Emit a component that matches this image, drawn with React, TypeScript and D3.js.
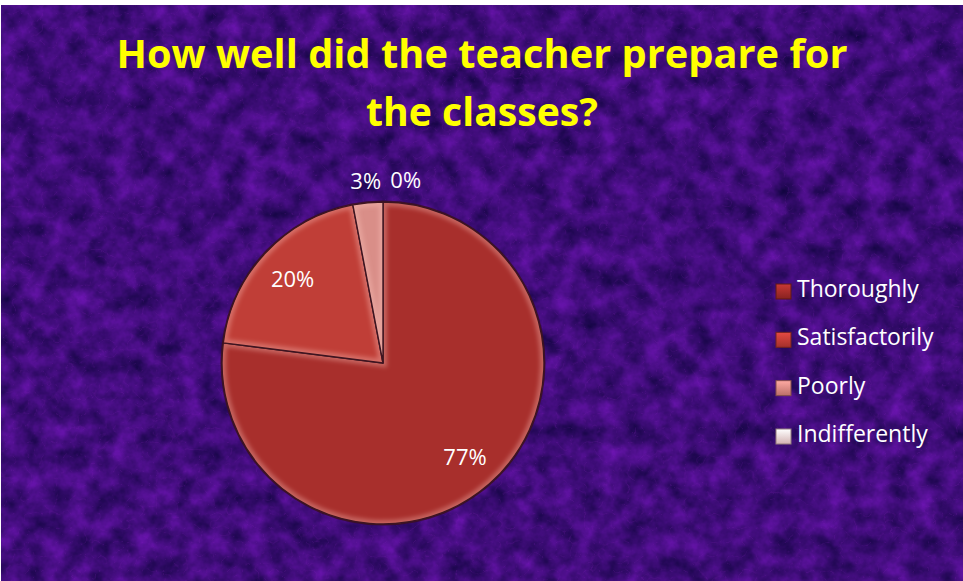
import React, { useEffect, useRef } from 'react';
import * as d3 from 'd3';

const categories = ['Thoroughly', 'Satisfactorily', 'Poorly', 'Indifferently'];
const values = [77, 20, 3, 0];
const labels = ['77%', '20%', '3%', '0%'];
const titleLines = ['How well did the teacher prepare for', 'the classes?'];

const W = 963;
const H = 581;

// light / dark ends of each slice gradient
const colorsLight = ['#a82f2c', '#c03e37', '#d98e88', '#eed6d6'];
const colorsDark = ['#872220', '#a3302b', '#bb6e68', '#d2b2b2'];

const App = () => {
  const ref = useRef<SVGSVGElement>(null);

  useEffect(() => {
    const svg = d3.select(ref.current);
    svg.selectAll('*').remove();

    const defs = svg.append('defs');

    // purple marble background
    const tex = defs.append('filter').attr('id', 'tex')
      .attr('x', 0).attr('y', 0).attr('width', '100%').attr('height', '100%')
      .attr('color-interpolation-filters', 'sRGB');
    tex.append('feTurbulence').attr('type', 'fractalNoise')
      .attr('baseFrequency', 0.045).attr('numOctaves', 4).attr('seed', 7);
    tex.append('feColorMatrix').attr('type', 'matrix')
      .attr('values', '0.4 0 0 0 0.05  0.07 0 0 0 0.015  0.5 0 0 0 0.23  0 0 0 0 1');

    const veins = defs.append('filter').attr('id', 'veins')
      .attr('x', 0).attr('y', 0).attr('width', '100%').attr('height', '100%')
      .attr('color-interpolation-filters', 'sRGB');
    veins.append('feTurbulence').attr('type', 'turbulence')
      .attr('baseFrequency', 0.07).attr('numOctaves', 2).attr('seed', 11);
    veins.append('feColorMatrix').attr('type', 'matrix')
      .attr('values', '0 0 0 0 0.5  0 0 0 0 0.12  0 0 0 0 0.7  -2 0 0 0 0.18');

    const blur = defs.append('filter').attr('id', 'soft')
      .attr('x', '-10%').attr('y', '-10%').attr('width', '120%').attr('height', '120%');
    blur.append('feGaussianBlur').attr('stdDeviation', 2.2);

    svg.append('rect').attr('x', 1).attr('y', 5).attr('width', W - 1).attr('height', H - 5)
      .attr('filter', 'url(#tex)');
    svg.append('rect').attr('x', 1).attr('y', 5).attr('width', W - 1).attr('height', H - 5)
      .attr('filter', 'url(#veins)');

    // title
    svg.append('g').selectAll('text').data(titleLines).join('text')
      .attr('x', 482)
      .attr('y', (d, i) => 68 + i * 58)
      .attr('text-anchor', 'middle')
      .attr('font-family', '"Open Sans", sans-serif')
      .attr('font-weight', 700)
      .attr('font-size', 40)
      .attr('fill', '#ffff00')
      .attr('textLength', (d, i) => (i === 0 ? 731 : 232))
      .attr('lengthAdjust', 'spacingAndGlyphs')
      .text(d => d);

    // pie
    const cx = 383, cy = 363, r = 161;
    const pie = d3.pie<number>().sort(null).value(d => d);
    const arcs = pie(values);
    const arc = d3.arc<d3.PieArcDatum<number>>().innerRadius(0).outerRadius(r);

    const color = d3.scaleOrdinal<string, string>().domain(categories).range(colorsLight);
    const colorDark = d3.scaleOrdinal<string, string>().domain(categories).range(colorsDark);

    categories.forEach((c, i) => {
      const g = defs.append('linearGradient').attr('id', `grad${i}`)
        .attr('gradientUnits', 'userSpaceOnUse')
        .attr('x1', cx - r * 0.5).attr('y1', cy - r).attr('x2', cx + r * 0.4).attr('y2', cy + r);
      g.append('stop').attr('offset', 0).attr('stop-color', color(c));
      g.append('stop').attr('offset', 1).attr('stop-color', colorDark(c));
      const lg = defs.append('linearGradient').attr('id', `lgrad${i}`)
        .attr('x1', 0).attr('y1', 0).attr('x2', 0).attr('y2', 1);
      lg.append('stop').attr('offset', 0).attr('stop-color', d3.color(color(c))!.brighter(0.5).toString());
      lg.append('stop').attr('offset', 1).attr('stop-color', colorDark(c));
    });

    const pg = svg.append('g').attr('transform', `translate(${cx},${cy})`);

    // outer dark rim
    pg.append('circle').attr('r', r + 1.5).attr('fill', '#3a0f22').attr('opacity', 0.8);

    arcs.forEach((a, i) => {
      if (a.endAngle - a.startAngle <= 0) return;
      defs.append('clipPath').attr('id', `clip${i}`)
        .append('path').attr('d', arc(a)!).attr('transform', `translate(${cx},${cy})`);
      const sg = pg.append('g');
      sg.append('path').attr('d', arc(a)!).attr('fill', `url(#grad${i})`);
      // inner bevel highlight
      sg.append('g').attr('clip-path', `url(#clip${i})`).attr('transform', `translate(${-cx},${-cy})`)
        .append('path').attr('d', arc(a)!).attr('transform', `translate(${cx},${cy})`)
        .attr('fill', 'none').attr('stroke', '#ffc8c0').attr('stroke-opacity', 0.35)
        .attr('stroke-width', 8).attr('filter', 'url(#soft)');
      sg.append('path').attr('d', arc(a)!).attr('fill', 'none')
        .attr('stroke', '#3d1420').attr('stroke-width', 1.4).attr('stroke-linejoin', 'round');
    });

    // data labels
    const inner = d3.arc<d3.PieArcDatum<number>>().innerRadius(r * 0.77).outerRadius(r * 0.77);
    const outer = d3.arc<d3.PieArcDatum<number>>().innerRadius(r + 23).outerRadius(r + 23);
    let lastX = -Infinity;
    const pos = arcs.map((a) => {
      if (a.value >= 5) return inner.centroid(a);
      const p = outer.centroid(a);
      let x = p[0];
      if (x < lastX + 40) x = lastX + 40;
      lastX = x;
      return [x, p[1]];
    });
    pg.selectAll('text.lbl').data(arcs).join('text')
      .attr('class', 'lbl')
      .attr('x', (d, i) => pos[i][0])
      .attr('y', (d, i) => pos[i][1])
      .attr('text-anchor', 'middle')
      .attr('dominant-baseline', 'central')
      .attr('font-family', '"Open Sans", sans-serif')
      .attr('font-size', 22)
      .attr('fill', '#ffffff')
      .text((d, i) => labels[i]);

    // legend
    const ly = d3.scalePoint<string>().domain(categories).range([297, 442]);
    const lg = svg.append('g');
    const items = lg.selectAll('g').data(categories).join('g')
      .attr('transform', d => `translate(776,${ly(d)})`);
    items.append('rect').attr('x', 0).attr('y', -13).attr('width', 15).attr('height', 15)
      .attr('fill', (d, i) => `url(#lgrad${i})`)
      .attr('stroke', (d) => d3.color(colorDark(d))!.darker(1).toString())
      .attr('stroke-width', 1);
    items.append('text').attr('x', 21).attr('y', 0)
      .attr('font-family', '"Open Sans", sans-serif')
      .attr('font-size', 23)
      .attr('fill', '#ffffff')
      .text(d => d);
  }, []);

  return (
    <svg ref={ref} width={W} height={H} style={{ position: 'absolute', left: 0, top: 0, background: '#ffffff' }} />
  );
};

export default App;
